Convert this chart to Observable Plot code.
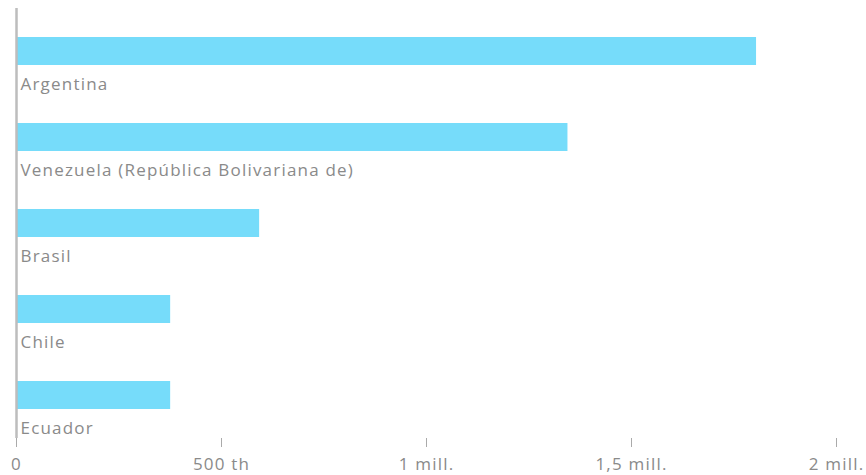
<!DOCTYPE html>
<html><head><meta charset="utf-8">
<script src="https://cdn.jsdelivr.net/npm/d3@7"></script>
<script src="https://cdn.jsdelivr.net/npm/@observablehq/plot@0.6"></script>
<style>html,body{margin:0;padding:0;background:#fff;} svg text{letter-spacing:1.2px;}</style>
</head><body><div id="chart"></div>
<script>
const countries = ["Argentina", "Venezuela (República Bolivariana de)", "Brasil", "Chile", "Ecuador"];
const values = [1805000, 1345000, 593000, 376000, 376000];
const tickValues = [0, 500000, 1000000, 1500000, 2000000];
const tickLabels = ["0", "500 th", "1 mill.", "1,5 mill.", "2 mill."];

const data = countries.map((c, i) => ({country: c, value: values[i]}));

const chart = Plot.plot({
  width: 866,
  height: 475,
  marginTop: 8,
  marginBottom: 37,
  marginLeft: 16,
  marginRight: 30,
  style: {fontFamily: "'Open Sans', sans-serif", fontSize: "17px", color: "#8a8a8a", background: "#fff"},
  x: {domain: [0, 2000000], range: [16, 836], axis: null, label: null},
  y: {type: "band", domain: countries, range: [30, 460], padding: 0, axis: null},
  marks: [
    Plot.barX(data, {x: "value", y: "country", fill: "#76dcfa", insetTop: 7, insetBottom: 51}),
    Plot.text(data, {x: 0, y: "country", text: "country", textAnchor: "start", dx: 4, dy: 11, fill: "#8a8a8a", fontSize: 17}),
    Plot.ruleX([0], {stroke: "#bdbdbd", strokeWidth: 2.5}),
    Plot.axisX({ticks: tickValues, label: null, tickFormat: (d) => tickLabels[tickValues.indexOf(d)], tickSize: 9, tickPadding: 10, stroke: "#aaaaaa", fill: "#8a8a8a", fontSize: 17})
  ]
});
document.getElementById("chart").appendChild(chart);
</script>
</body></html>
